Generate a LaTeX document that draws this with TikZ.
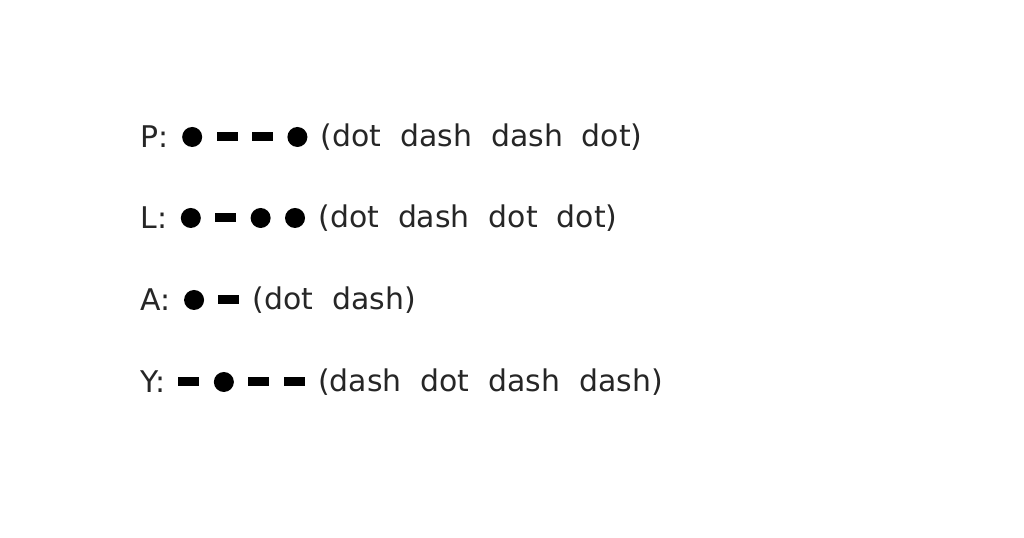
\documentclass[tikz,border=0pt]{standalone}
\usepackage{fontspec}
\setmainfont{DejaVu Sans}
\usetikzlibrary{positioning}
\begin{document}
\begin{tikzpicture}[node distance = 0.13cm]
	\tikzset{labelStyle/.style = {inner sep = 0pt, font = \fontsize{8.5pt}{10pt}\selectfont, text = black!85}}
	\tikzset{dotStyle/.style = {shape = circle, minimum size = 0.2cm, inner sep = 0pt, fill = black}}
	\tikzset{dashStyle/.style = {shape = rectangle, minimum width = 0.21cm, minimum height = 0.09cm, inner sep = 0pt, fill = black}}
	\useasboundingbox (0,0) rectangle (10.24,5.38);
	% P
	\node[labelStyle, anchor = west] (P) at (1.40,4.01) {P:};
	\node[dotStyle, right = 0.12 of P] (P1) {};
	\node[dashStyle, right = of P1] (P2) {};
	\node[dashStyle, right = of P2] (P3) {};
	\node[dotStyle, right = of P3] (P4) {};
	\node[labelStyle, right = 0.12 of P4] (Pt) {(dot\ \ dash\ \ dash\ \ dot)};
	% L
	\node[labelStyle, anchor = west] (L) at (1.40,3.20) {L:};
	\node[dotStyle, right = 0.12 of L] (L1) {};
	\node[dashStyle, right = of L1] (L2) {};
	\node[dotStyle, right = of L2] (L3) {};
	\node[dotStyle, right = of L3] (L4) {};
	\node[labelStyle, right = 0.12 of L4] (Lt) {(dot\ \ dash\ \ dot\ \ dot)};
	% A
	\node[labelStyle, anchor = west] (A) at (1.40,2.38) {A:};
	\node[dotStyle, right = 0.12 of A] (A1) {};
	\node[dashStyle, right = of A1] (A2) {};
	\node[labelStyle, right = 0.12 of A2] (At) {(dot\ \ dash)};
	% Y
	\node[labelStyle, anchor = west] (Y) at (1.40,1.56) {Y:};
	\node[dashStyle, right = 0.12 of Y] (Y1) {};
	\node[dotStyle, right = of Y1] (Y2) {};
	\node[dashStyle, right = of Y2] (Y3) {};
	\node[dashStyle, right = of Y3] (Y4) {};
	\node[labelStyle, right = 0.12 of Y4] (Yt) {(dash\ \ dot\ \ dash\ \ dash)};
\end{tikzpicture}
\end{document}
